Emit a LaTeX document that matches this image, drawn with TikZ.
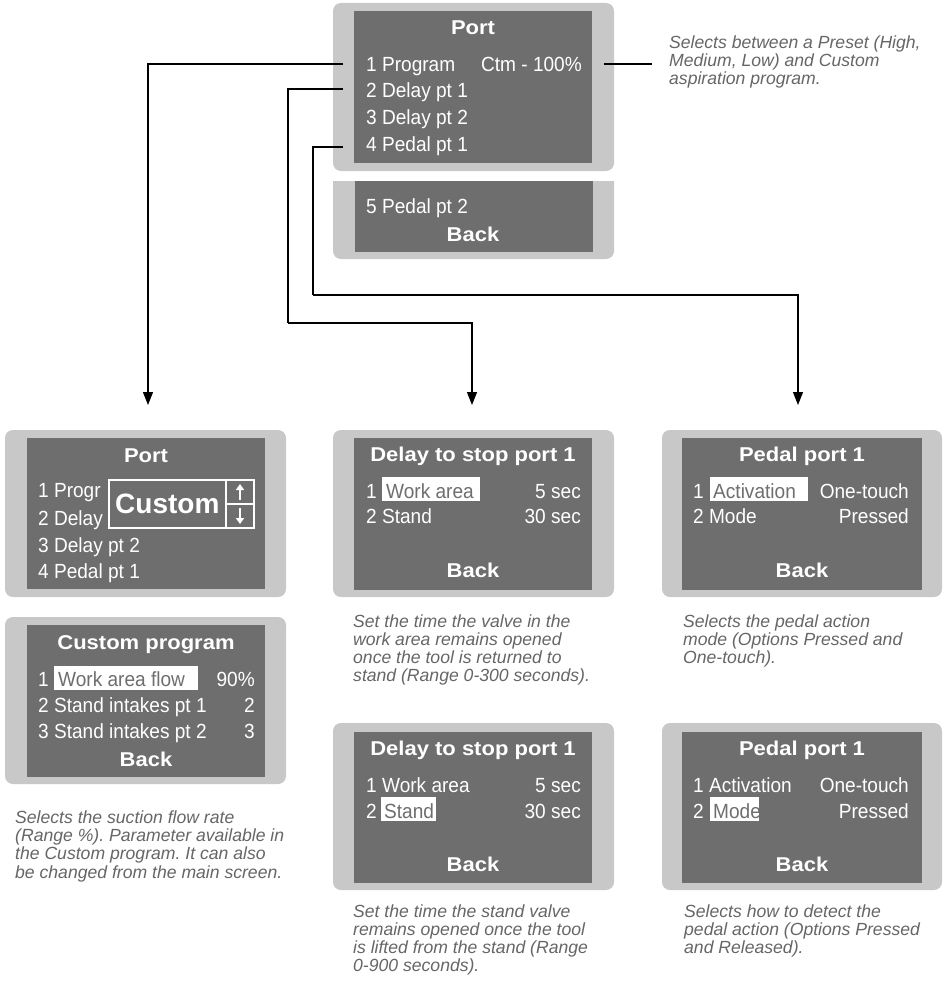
\documentclass[tikz,border=0pt]{standalone}
\usepackage{fontspec}
\setmainfont{Liberation Sans}
\newfontfamily\lcdfont[FakeStretch=0.93]{Liberation Sans}
\newfontfamily\lcdtitlefont[FakeStretch=1.1]{Liberation Sans}
\usetikzlibrary{arrows.meta}
\definecolor{framec}{HTML}{C8C8C8}
\definecolor{lcd}{HTML}{6E6E6E}
\definecolor{captc}{HTML}{666666}
\frenchspacing
\begin{document}
\begin{tikzpicture}[x=1pt,y=-1pt,
  item/.style={anchor=base west, inner sep=0pt, text=white, font=\lcdfont\fontsize{20.5}{20}\selectfont},
  itemr/.style={item, anchor=base east},
  hitem/.style={item, text=lcd},
  ttl/.style={anchor=base, inner sep=0pt, text=white, font=\lcdtitlefont\bfseries\fontsize{20}{20}\selectfont},
  hl/.style={fill=white},
  outerbox/.style={fill=framec, rounded corners=8pt},
  innerbox/.style={fill=lcd},
  captxt/.style={anchor=base west, inner sep=0pt, align=left, text=captc, font=\itshape\fontsize{17.6}{18.3}\selectfont},
  conn/.style={draw=black, line width=1.1pt},
  arr/.style={conn, -{Triangle[length=13pt,width=10pt]}}]
\fill[white] (0,0) rectangle (944,990);
\useasboundingbox (0,0) rectangle (944,990);

% ---------- top Port screen ----------
\fill[outerbox] (333,3) rectangle (614,171);
\fill[innerbox] (354,11) rectangle (592,163);
\fill[framec] (333,181) {[rounded corners=8pt] -- (333,259) -- (614,259)} -- (614,181) -- cycle;
\fill[innerbox] (355,181) rectangle (593,252);
\node[ttl] (t0) at (473,35) {Port};
\node[item] (p1) at (366,71) {1 Program};
\node[itemr] (p1v) at (582,71) {Ctm - 100\%};
\node[item] (p2) at (366,97) {2 Delay pt 1};
\node[item] (p3) at (366,124) {3 Delay pt 2};
\node[item] (p4) at (366,151) {4 Pedal pt 1};
\node[item] (p5) at (366,213) {5 Pedal pt 2};
\node[ttl] (pb) at (473,241) {Back};

% ---------- connectors ----------
\coordinate (c1) at (343,64);
\coordinate (c2) at (343,89);
\coordinate (c3) at (343,147);
\coordinate (k2) at (288,323);
\coordinate (k3) at (313,295);
\coordinate (a1) at (148,405);
\coordinate (a2) at (472,405);
\coordinate (a3) at (798,405);
\coordinate (r1) at (604,64);
\coordinate (r2) at (652,64);
\draw[arr] (c1) -| (a1);
\draw[conn] (c2) -| (k2);
\draw[arr] (k2) -| (a2);
\draw[conn] (c3) -| (k3);
\draw[arr] (k3) -| (a3);
\draw[conn] (r1) -- (r2);

% ---------- Port with Custom popup ----------
\fill[outerbox] (5,430) rectangle (286,597);
\fill[innerbox] (27,438) rectangle (265,589);
\node[ttl] (q0) at (146,462) {Port};
\node[item] (q1) at (38,497) {1 Progr};
\node[item] (q2) at (38,525) {2 Delay};
\node[item] (q3) at (38,552) {3 Delay pt 2};
\node[item] (q4) at (38,578) {4 Pedal pt 1};
\draw[white, line width=1.5pt, fill=lcd] (109,480) rectangle (254,528);
\draw[white, line width=1.5pt] (226,480) -- (226,528) (226,504) -- (254,504);
\node[anchor=base west, inner sep=0pt, text=white, font=\bfseries\fontsize{28}{28}\selectfont] (qc) at (115,513) {Custom};
\draw[white, line width=2pt, -{Triangle[length=6pt,width=8pt]}] (240,500) -- (240,484);
\draw[white, line width=2pt, -{Triangle[length=6pt,width=8pt]}] (240,508) -- (240,524);

% ---------- Custom program ----------
\fill[outerbox] (5,617) rectangle (286,784);
\fill[innerbox] (27,625) rectangle (265,777);
\node[ttl] (u0) at (146,649) {Custom program};
\fill[hl] (54,666) rectangle (198,690);
\node[item] (u1n) at (38,686) {1};
\node[hitem] (u1) at (58,686) {Work area flow};
\node[itemr] (u1v) at (255,686) {90\%};
\node[item] (u2) at (38,712) {2 Stand intakes pt 1};
\node[itemr] (u2v) at (255,712) {2};
\node[item] (u3) at (38,738) {3 Stand intakes pt 2};
\node[itemr] (u3v) at (255,738) {3};
\node[ttl] (ub) at (146,766) {Back};

% ---------- Delay screen 1 ----------
\fill[outerbox] (333,430) rectangle (614,597);
\fill[innerbox] (354,438) rectangle (592,590);
\node[ttl] (d0) at (473,461) {Delay to stop port 1};
\fill[hl] (382,477) rectangle (480,501);
\node[item] (d1n) at (366,498) {1};
\node[hitem] (d1) at (386,498) {Work area};
\node[itemr] (d1v) at (581,498) {5 sec};
\node[item] (d2) at (366,523) {2 Stand};
\node[itemr] (d2v) at (581,523) {30 sec};
\node[ttl] (db) at (473,577) {Back};

% ---------- Pedal screen 1 ----------
\fill[outerbox] (662,430) rectangle (942,597);
\fill[innerbox] (682,438) rectangle (922,590);
\node[ttl] (e0) at (802,461) {Pedal port 1};
\fill[hl] (710,477) rectangle (808,501);
\node[item] (e1n) at (693,498) {1};
\node[hitem] (e1) at (713,498) {Activation};
\node[itemr] (e1v) at (909,498) {One-touch};
\node[item] (e2) at (693,523) {2 Mode};
\node[itemr] (e2v) at (909,523) {Pressed};
\node[ttl] (eb) at (802,577) {Back};

% ---------- Delay screen 2 ----------
\fill[outerbox] (333,723) rectangle (614,890);
\fill[innerbox] (354,732) rectangle (592,883);
\node[ttl] (f0) at (473,755) {Delay to stop port 1};
\node[item] (f1) at (366,792) {1 Work area};
\node[itemr] (f1v) at (581,792) {5 sec};
\node[item] (f2n) at (366,818) {2};
\fill[hl] (381,797) rectangle (436,821);
\node[hitem] (f2) at (384,818) {Stand};
\node[itemr] (f2v) at (581,818) {30 sec};
\node[ttl] (fb) at (473,871) {Back};

% ---------- Pedal screen 2 ----------
\fill[outerbox] (662,723) rectangle (942,890);
\fill[innerbox] (682,732) rectangle (922,883);
\node[ttl] (g0) at (802,755) {Pedal port 1};
\node[item] (g1) at (693,792) {1 Activation};
\node[itemr] (g1v) at (909,792) {One-touch};
\node[item] (g2n) at (693,818) {2};
\fill[hl] (710,797) rectangle (759,821);
\node[hitem] (g2) at (713,818) {Mode};
\node[itemr] (g2v) at (909,818) {Pressed};
\node[ttl] (gb) at (802,871) {Back};

% ---------- captions (anchored at the baseline of their last line) ----------
\node[captxt] (cap1) at (669,84.9) {Selects between a Preset (High,\\Medium, Low) and Custom\\aspiration program.};
\node[captxt] (cap2) at (15,878.2) {Selects the suction flow rate\\(Range \%). Parameter available in\\the Custom program. It can also\\be changed from the main screen.};
\node[captxt] (cap3) at (353,681.9) {Set the time the valve in the\\work area remains opened\\once the tool is returned to\\stand (Range 0-300 seconds).};
\node[captxt] (cap4) at (683,663.6) {Selects the pedal action\\mode (Options Pressed and\\One-touch).};
\node[captxt] (cap5) at (353,971.9) {Set the time the stand valve\\remains opened once the tool\\is lifted from the stand (Range\\0-900 seconds).};
\node[captxt] (cap6) at (684,953.6) {Selects how to detect the\\pedal action (Options Pressed\\and Released).};
\end{tikzpicture}
\end{document}
